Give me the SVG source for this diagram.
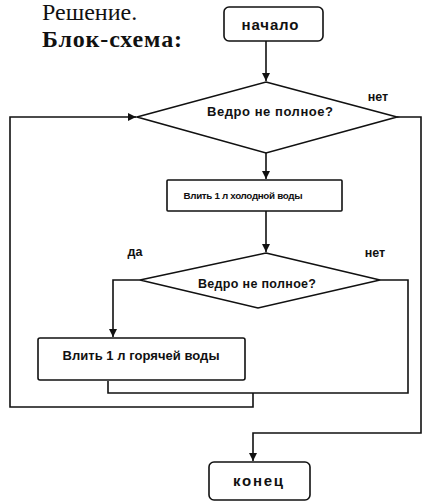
<svg xmlns="http://www.w3.org/2000/svg" width="423" height="503" viewBox="0 0 423 503">
<style>
.sh{fill:#fff;stroke:#111;stroke-width:1.6}
.ln{fill:none;stroke:#111;stroke-width:1.6;stroke-linejoin:miter}
.t{font-family:"Liberation Sans",Arial,sans-serif;font-weight:bold;fill:#111;text-anchor:middle}
.h{font-family:"Liberation Serif","Times New Roman",serif;fill:#111;font-size:24px}
</style>
<defs>
<marker id="ah" viewBox="0 0 10 10" refX="10" refY="5" markerWidth="8" markerHeight="8" markerUnits="userSpaceOnUse" orient="auto">
<path d="M0,0 L10,5 L0,10 z" fill="#111"/>
</marker>
</defs>
<rect width="423" height="503" fill="#fff"/>
<text class="h" x="42" y="20">Решение.</text>
<text class="h" x="42" y="47" font-weight="bold" textLength="140">Блок-схема:</text>
<g id="connectors">
<path class="ln" d="M266,41 V81" marker-end="url(#ah)"/>
<path class="ln" d="M266,153 V179" marker-end="url(#ah)"/>
<path class="ln" d="M266,211 V252" marker-end="url(#ah)"/>
<path class="ln" d="M140,280 H113 V337" marker-end="url(#ah)"/>
<path class="ln" d="M380,280 H408 V393 H108 V381"/>
<path class="ln" d="M253,393 V407 H10 V117 H136" marker-end="url(#ah)"/>
<path class="ln" d="M397,117 H421 V433 H253 V461" marker-end="url(#ah)"/>
</g>
<g id="start">
<rect class="sh" x="224" y="7" width="99" height="34" rx="5"/>
<text class="t" x="270" y="30" font-size="15" textLength="57">начало</text>
</g>
<g id="cond1">
<polygon class="sh" points="266,82 397,117 266,153 137,117"/>
<text class="t" x="270" y="116" font-size="13" textLength="126">Ведро не полное?</text>
</g>
<g id="cold">
<rect class="sh" x="167" y="180" width="175" height="31" rx="1"/>
<text class="t" x="243" y="199" font-size="9.8" textLength="119">Влить 1 л холодной воды</text>
</g>
<g id="cond2">
<polygon class="sh" points="266,253 380,280 258,308 140,280"/>
<text class="t" x="257" y="288" font-size="12.5" textLength="118">Ведро не полное?</text>
</g>
<g id="hot">
<rect class="sh" x="38" y="338" width="207" height="42" rx="2"/>
<text class="t" x="141" y="360" font-size="13" textLength="157">Влить 1 л горячей воды</text>
</g>
<g id="end">
<rect class="sh" x="209" y="462" width="101" height="38" rx="5"/>
<text class="t" x="258" y="486" font-size="15" textLength="50">конец</text>
</g>
<g id="labels">
<text class="t" x="378" y="101" font-size="12.5">нет</text>
<text class="t" x="135" y="256" font-size="12.5">да</text>
<text class="t" x="375" y="257" font-size="12.5">нет</text>
</g>
</svg>
